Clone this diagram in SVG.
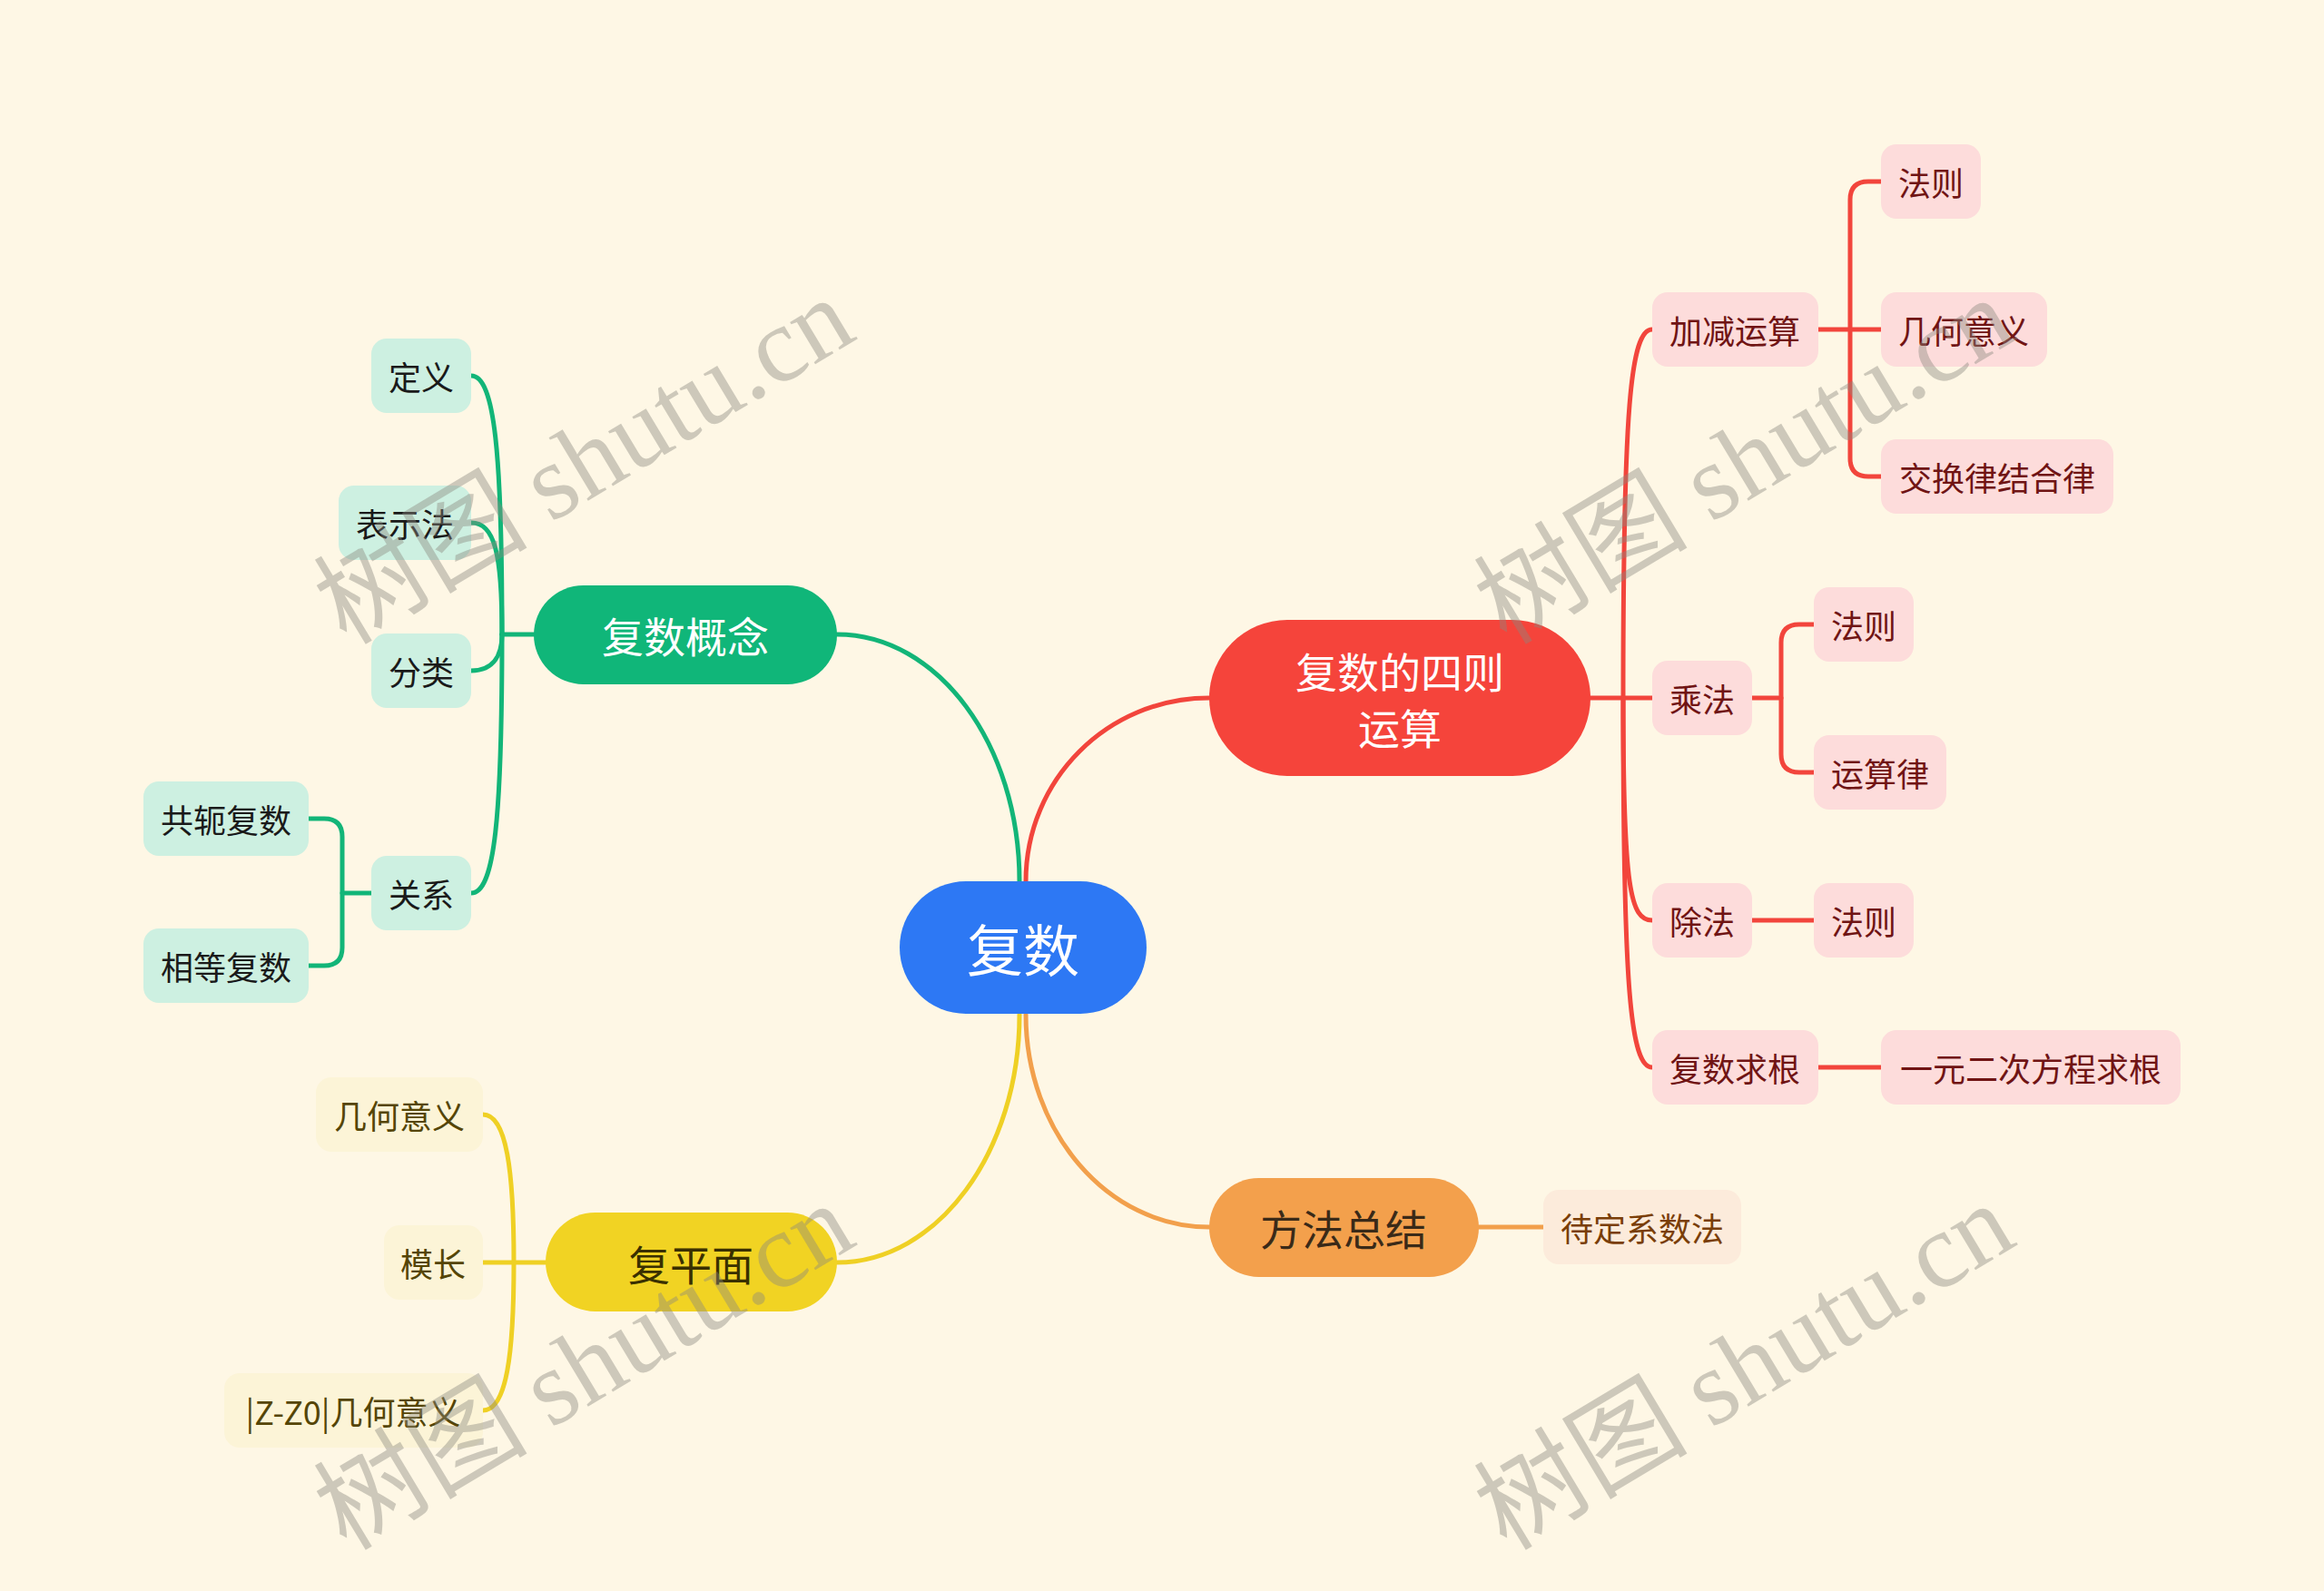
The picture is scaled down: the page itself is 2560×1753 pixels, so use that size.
<svg xmlns="http://www.w3.org/2000/svg" width="2560" height="1753" viewBox="0 0 2560 1753">
<style>
text{font-family:"Noto Sans CJK SC","Noto Sans",sans-serif;text-anchor:middle;dominant-baseline:central}
.main{font-size:46px}
.sub{font-size:36px}
.ln{fill:none;stroke-width:5;stroke-linecap:round;stroke-linejoin:round}
.g{stroke:#12B578}.r{stroke:#F2453C}.y{stroke:#EFD024}.o{stroke:#F2A04C}
.gb{fill:#CDF0E1}.gt{fill:#1A1A1A}
.rb{fill:#FDDCDB}.rt{fill:#701414}
.yb{fill:#FCF4D7}.yt{fill:#554506}
.ob{fill:#FCEBDB}.ot{fill:#7A3E08}
.wm{font-size:118px;fill:#8A877E;fill-opacity:0.42;dominant-baseline:alphabetic}
</style>
<rect width="2560" height="1753" fill="#FEF7E5"/>
<g id="connectors">
<path class="ln g" d="M1123,971 C1123,820 1033,699 922,699"/>
<path class="ln r" d="M1130,971 C1130,859 1220,769 1332,769"/>
<path class="ln y" d="M1123,1118 C1123,1269 1033,1391 922,1391"/>
<path class="ln o" d="M1130,1118 C1130,1247 1220,1352 1332,1352"/>
<path class="ln g" d="M588,699 H553"/>
<path class="ln g" d="M519,414 C545,414 553,500 553,699"/>
<path class="ln g" d="M519,576 C545,576 553,610 553,699"/>
<path class="ln g" d="M519,739 C545,739 553,720 553,699"/>
<path class="ln g" d="M519,984 C545,984 553,900 553,699"/>
<path class="ln g" d="M410,984 H377"/>
<path class="ln g" d="M340,902 H357 Q377,902 377,922 V1044 Q377,1064 357,1064 H340"/>
<path class="ln r" d="M1750,769 H1820"/>
<path class="ln r" d="M1820,363 C1796,363 1788,450 1788,769"/>
<path class="ln r" d="M1820,1014 C1796,1014 1788,980 1788,769"/>
<path class="ln r" d="M1820,1176 C1796,1176 1788,1090 1788,769"/>
<path class="ln r" d="M2003,363 H2072"/>
<path class="ln r" d="M2072,200 H2058 Q2038,200 2038,220 V505 Q2038,525 2058,525 H2072"/>
<path class="ln r" d="M1930,769 H1962"/>
<path class="ln r" d="M1998,688 H1982 Q1962,688 1962,708 V831 Q1962,851 1982,851 H1998"/>
<path class="ln r" d="M1930,1014 H1998"/>
<path class="ln r" d="M2003,1176 H2072"/>
<path class="ln y" d="M601,1391 H566"/>
<path class="ln y" d="M532,1228 C558,1228 566,1290 566,1391"/>
<path class="ln y" d="M532,1391 H566"/>
<path class="ln y" d="M532,1554 C558,1554 566,1492 566,1391"/>
<path class="ln o" d="M1629,1352 H1700"/>
</g>
<g id="n-root"><rect x="991" y="971" width="272" height="146" rx="73" fill="#2D78F4"/><text x="1127" y="1044" font-size="62" fill="#fff">复数</text></g>
<g id="n-concept"><rect x="588" y="645" width="334" height="109" rx="54.5" fill="#10B679"/><text class="main" x="755" y="699" fill="#fff">复数概念</text></g>
<g id="n-ops"><rect x="1332" y="683" width="420" height="172" rx="86" fill="#F5443B"/><text class="main" x="1542" y="738" fill="#fff">复数的四则</text><text class="main" x="1542" y="800" fill="#fff">运算</text></g>
<g id="n-plane"><rect x="601" y="1336" width="321" height="109" rx="54.5" fill="#F1D323"/><text class="main" x="761" y="1391" fill="#3A3000">复平面</text></g>
<g id="n-method"><rect x="1332" y="1298" width="297" height="109" rx="54.5" fill="#F3A04C"/><text class="main" x="1480" y="1352" fill="#3A2A18">方法总结</text></g>
<g id="n-def"><rect class="gb" x="409" y="373" width="110" height="82" rx="17"/><text class="sub gt" x="464" y="414">定义</text></g>
<g id="n-repr"><rect class="gb" x="373" y="535" width="146" height="82" rx="17"/><text class="sub gt" x="446" y="576">表示法</text></g>
<g id="n-class"><rect class="gb" x="409" y="698" width="110" height="82" rx="17"/><text class="sub gt" x="464" y="739">分类</text></g>
<g id="n-rel"><rect class="gb" x="409" y="943" width="110" height="82" rx="17"/><text class="sub gt" x="464" y="984">关系</text></g>
<g id="n-conj"><rect class="gb" x="158" y="861" width="182" height="82" rx="17"/><text class="sub gt" x="249" y="902">共轭复数</text></g>
<g id="n-eq"><rect class="gb" x="158" y="1023" width="182" height="82" rx="17"/><text class="sub gt" x="249" y="1064">相等复数</text></g>
<g id="n-addsub"><rect class="rb" x="1820" y="322" width="183" height="82" rx="17"/><text class="sub rt" x="1911" y="363">加减运算</text></g>
<g id="n-rule1"><rect class="rb" x="2072" y="159" width="110" height="82" rx="17"/><text class="sub rt" x="2127" y="200">法则</text></g>
<g id="n-geo1"><rect class="rb" x="2072" y="322" width="183" height="82" rx="17"/><text class="sub rt" x="2163" y="363">几何意义</text></g>
<g id="n-law1"><rect class="rb" x="2072" y="484" width="256" height="82" rx="17"/><text class="sub rt" x="2200" y="525">交换律结合律</text></g>
<g id="n-mul"><rect class="rb" x="1820" y="728" width="110" height="82" rx="17"/><text class="sub rt" x="1875" y="769">乘法</text></g>
<g id="n-rule2"><rect class="rb" x="1998" y="647" width="110" height="82" rx="17"/><text class="sub rt" x="2053" y="688">法则</text></g>
<g id="n-law2"><rect class="rb" x="1998" y="810" width="146" height="82" rx="17"/><text class="sub rt" x="2071" y="851">运算律</text></g>
<g id="n-div"><rect class="rb" x="1820" y="973" width="110" height="82" rx="17"/><text class="sub rt" x="1875" y="1014">除法</text></g>
<g id="n-rule3"><rect class="rb" x="1998" y="973" width="110" height="82" rx="17"/><text class="sub rt" x="2053" y="1014">法则</text></g>
<g id="n-root2"><rect class="rb" x="1820" y="1135" width="183" height="82" rx="17"/><text class="sub rt" x="1911" y="1176">复数求根</text></g>
<g id="n-quad"><rect class="rb" x="2072" y="1135" width="330" height="82" rx="17"/><text class="sub rt" x="2237" y="1176">一元二次方程求根</text></g>
<g id="n-geo2"><rect class="yb" x="348" y="1187" width="184" height="82" rx="17"/><text class="sub yt" x="440" y="1228">几何意义</text></g>
<g id="n-mod"><rect class="yb" x="423" y="1350" width="109" height="82" rx="17"/><text class="sub yt" x="477" y="1391">模长</text></g>
<g id="n-zz0"><rect class="yb" x="247" y="1513" width="285" height="82" rx="17"/><text class="sub yt" x="389" y="1554">|Z-Z0|几何意义</text></g>
<g id="n-undet"><rect class="ob" x="1700" y="1311" width="218" height="82" rx="17"/><text class="sub ot" x="1809" y="1352">待定系数法</text></g>
<g id="watermarks">
<text class="wm" transform="translate(664,542) rotate(-31)"><tspan>树图 </tspan><tspan font-family="Liberation Serif,serif">shutu.cn</tspan></text>
<text class="wm" transform="translate(1942,542) rotate(-31)"><tspan>树图 </tspan><tspan font-family="Liberation Serif,serif">shutu.cn</tspan></text>
<text class="wm" transform="translate(664,1540) rotate(-31)"><tspan>树图 </tspan><tspan font-family="Liberation Serif,serif">shutu.cn</tspan></text>
<text class="wm" transform="translate(1942,1540) rotate(-31)"><tspan>树图 </tspan><tspan font-family="Liberation Serif,serif">shutu.cn</tspan></text>
</g>
</svg>
